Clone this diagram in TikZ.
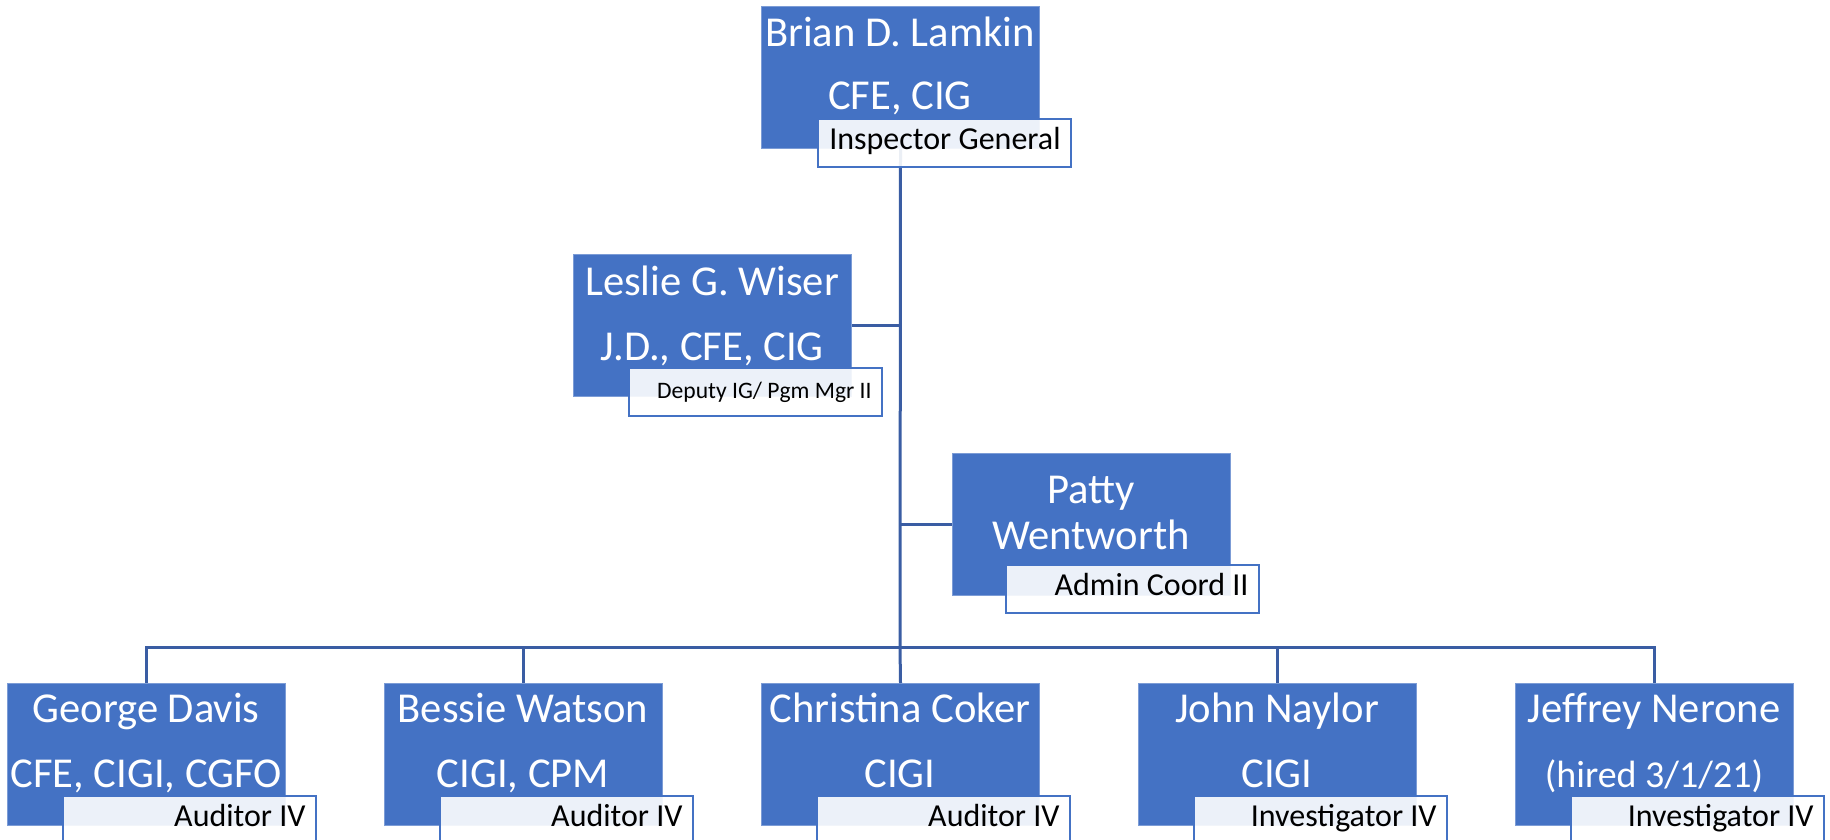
\documentclass[tikz,border=0pt]{standalone}
\usepackage{fontspec}
\setmainfont{Carlito}
\definecolor{ob}{HTML}{4472C4}
\definecolor{lnc}{HTML}{3A5DA3}
\begin{document}
\begin{tikzpicture}[x=0.5pt,y=-0.5pt,
  box/.style={fill=ob, draw=ob!70!white, line width=0.5pt, anchor=north west, inner sep=0pt, minimum width=139pt, minimum height=71pt},
  lab/.style={draw=ob, line width=1pt, fill=white, fill opacity=0.9, anchor=north west, inner sep=0pt, minimum width=126.5pt, minimum height=24pt},
  nm/.style={text=white, anchor=base, inner sep=0pt, font=\fontsize{21.3}{21.3}\selectfont},
  nmsmall/.style={text=white, anchor=base, inner sep=0pt, font=\fontsize{19}{19}\selectfont},
  lt/.style={text=black, anchor=base east, inner sep=0pt, font=\fontsize{16}{16}\selectfont},
  ltsmall/.style={text=black, anchor=base east, inner sep=0pt, font=\fontsize{11.8}{11.8}\selectfont},
  conn/.style={draw=lnc, line width=1.5pt}]
\useasboundingbox (0,0) rectangle (1830,840);
% boxes
\node[box] (Brian) at (761,6) {};
\node[box] (Leslie) at (573,254) {};
\node[box] (Patty) at (952,453) {};
\node[box] (George) at (7,683) {};
\node[box] (Bessie) at (384,683) {};
\node[box] (Christina) at (761,683) {};
\node[box] (John) at (1138,683) {};
\node[box] (Jeffrey) at (1515,683) {};
% connectors
\coordinate (bus) at (900,647);
\draw[conn] (Brian.south) -- (bus);
\draw[conn] (Leslie.east) -- (Leslie.east -| Brian.south);
\draw[conn] (Patty.west) -- (Patty.west -| Brian.south);
\draw[conn] (bus) -| (George.north);
\draw[conn] (bus) -| (Bessie.north);
\draw[conn] (bus) -- (Christina.north);
\draw[conn] (bus) -| (John.north);
\draw[conn] (bus) -| (Jeffrey.north);
% box texts
\node[nm] (t1a) at (900,47) {Brian D. Lamkin};
\node[nm] (t1b) at (900,110) {CFE, CIG};
\node[nm] (t2a) at (712,295) {Leslie G. Wiser};
\node[nm] (t2b) at (712,360) {J.D., CFE, CIG};
\node[nm] (t3a) at (1091,503) {Patty};
\node[nm] (t3b) at (1091,549) {Wentworth};
\node[nm] (t4a) at (146,722) {George Davis};
\node[nm] (t4b) at (146,787) {CFE, CIGI, CGFO};
\node[nm] (t5a) at (523,722) {Bessie Watson};
\node[nm] (t5b) at (523,787) {CIGI, CPM};
\node[nm] (t6a) at (900,722) {Christina Coker};
\node[nm] (t6b) at (900,787) {CIGI};
\node[nm] (t7a) at (1277,722) {John Naylor};
\node[nm] (t7b) at (1277,787) {CIGI};
\node[nm] (t8a) at (1654,722) {Jeffrey Nerone};
\node[nmsmall] (t8b) at (1654,787) {(hired 3/1/21)};
% labels
\node[lab] (L1) at (817,118) {};
\node[lab] (L2) at (628,367) {};
\node[lab] (L3) at (1005,564) {};
\node[lab] (L4) at (62,795) {};
\node[lab] (L5) at (439,795) {};
\node[lab] (L6) at (816,795) {};
\node[lab] (L7) at (1193,795) {};
\node[lab] (L8) at (1570,795) {};
\node[lt] (l1) at (1061,149) {Inspector General};
\node[ltsmall] (l2) at (872,398) {Deputy IG/ Pgm Mgr II};
\node[lt] (l3) at (1249,595) {Admin Coord II};
\node[lt] (l4) at (306,826) {Auditor IV};
\node[lt] (l5) at (683,826) {Auditor IV};
\node[lt] (l6) at (1060,826) {Auditor IV};
\node[lt] (l7) at (1437,826) {Investigator IV};
\node[lt] (l8) at (1814,826) {Investigator IV};
\end{tikzpicture}
\end{document}
